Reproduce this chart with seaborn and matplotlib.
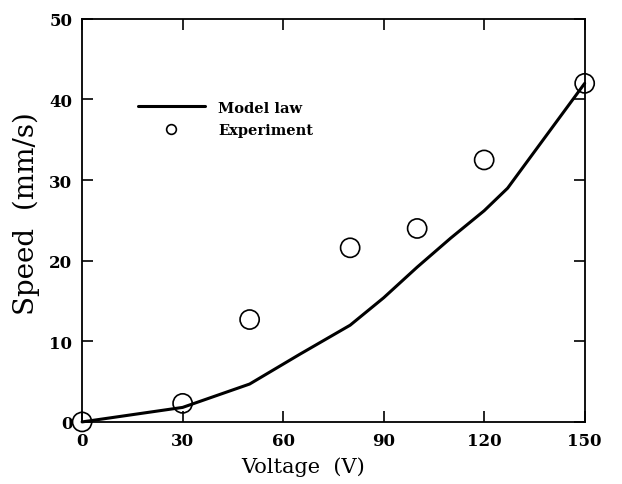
import numpy as np
import pandas as pd
import matplotlib
matplotlib.use("Agg")
import matplotlib.pyplot as plt
import seaborn as sns
from matplotlib.lines import Line2D

# dados
tensao_modelo = [0, 30, 50, 65, 80, 90, 100, 110, 120, 127, 150]
veloc_modelo = [0, 1.8, 4.7, 8.4, 12.0, 15.4, 19.2, 22.8, 26.2, 29.0, 42.0]

tensao_exp = [0, 30, 50, 80, 100, 120, 150]
veloc_exp = [0, 2.3, 12.7, 21.6, 24.0, 32.5, 42.0]

sns.set_style("ticks")
plt.rcParams['font.family'] = ['DejaVu Serif', 'Liberation Serif']
plt.rcParams.update({'text.color': 'black', 'axes.labelcolor': 'black',
                     'xtick.color': 'black', 'ytick.color': 'black',
                     'axes.edgecolor': 'black'})

fig = plt.figure(figsize=(6.22, 4.85), dpi=100)
ax = fig.add_axes([0.132, 0.128, 0.808, 0.831])

modelo = pd.DataFrame({'V': tensao_modelo, 'S': veloc_modelo})
exp = pd.DataFrame({'V': tensao_exp, 'S': veloc_exp})

sns.lineplot(data=modelo, x='V', y='S', ax=ax, color='black', linewidth=2.2, clip_on=False)
sns.scatterplot(data=exp, x='V', y='S', ax=ax, marker='o', s=190, facecolor='none',
                edgecolor='black', linewidth=1.2, clip_on=False, zorder=5)

ax.set_xlim(0, 150)
ax.set_ylim(0, 50)
ax.set_xticks([0, 30, 60, 90, 120, 150])
ax.set_yticks([0, 10, 20, 30, 40, 50])
ax.tick_params(direction='in', top=True, right=True, length=8, width=1.2,
               labelsize=12, pad=7)
for lbl in ax.get_xticklabels() + ax.get_yticklabels():
    lbl.set_fontweight('bold')
for s in ax.spines.values():
    s.set_linewidth(1.3)

ax.set_xlabel("Voltage  (V)", fontsize=15)
ax.set_ylabel("Speed  (mm/s)", fontsize=20)
ax.xaxis.set_label_coords(0.44, -0.085)
ax.yaxis.set_label_coords(-0.083, 0.52)

handles = [Line2D([], [], color='black', linewidth=2.2),
           Line2D([], [], color='black', marker='o', linestyle='none',
                  markersize=7, markerfacecolor='none', markeredgewidth=1.2)]
ax.legend(handles, ['Model law', 'Experiment'], frameon=False,
          loc='upper left', bbox_to_anchor=(0.085, 0.83), handlelength=4.6,
          handletextpad=0.9, labelspacing=0.6,
          prop={'weight': 'bold', 'size': 10.5})

fig.savefig('out.png', dpi=100)
